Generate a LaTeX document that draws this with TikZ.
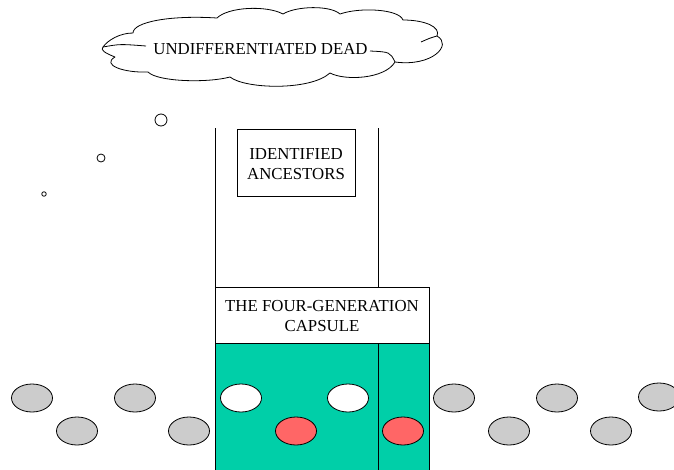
\documentclass[tikz,border=0pt]{standalone}
\usepackage{fontspec}
\setmainfont{Liberation Serif}
\usetikzlibrary{shapes.geometric}
\definecolor{capgreen}{RGB}{0,207,168}
\definecolor{redegg}{RGB}{255,102,102}
\definecolor{grayegg}{RGB}{204,204,204}
\tikzset{
  lbl/.style={font=\fontsize{16.8}{20}\selectfont, align=center, inner sep=0pt},
  boxnode/.style={draw, line width=0.8pt, fill=white, inner sep=0pt},
  egg/.style={draw, ellipse, line width=0.8pt, minimum width=41pt, minimum height=28pt, inner sep=0pt},
  whiteegg/.style={egg, fill=white},
  redeggs/.style={egg, fill=redegg},
  grayeggs/.style={egg, fill=grayegg},
  bubble/.style={draw, circle, line width=0.8pt, inner sep=0pt, fill=white},
  wall/.style={line width=0.8pt},
  cloudline/.style={line width=0.8pt, line join=round}
}
\begin{document}
\begin{tikzpicture}[x=1pt,y=-1pt]
\useasboundingbox (0,0) rectangle (674,469);
\clip (0,0) rectangle (674,469);
% cloud outline
\coordinate (c0) at (103,47);
\coordinate (c1) at (133,33);
\coordinate (c2) at (217,18);
\coordinate (c3) at (283,14);
\coordinate (c4) at (340,14);
\coordinate (c5) at (403,20);
\coordinate (c6) at (437,36);
\coordinate (c7) at (395,62);
\coordinate (c8) at (330,73);
\coordinate (c9) at (230,77);
\coordinate (c10) at (148,72);
\coordinate (c11) at (115,57);
\draw[cloudline, fill=white] (c0)
  .. controls (108,40) and (120,33) .. (c1)
  .. controls (133,22) and (170,15) .. (c2)
  .. controls (228,7) and (266,5) .. (c3)
  .. controls (296,6) and (330,5) .. (c4)
  .. controls (360,7) and (399,9) .. (c5)
  .. controls (425,20) and (441,27) .. (c6)
  .. controls (453,45) and (432,67) .. (c7)
  .. controls (385,79) and (345,81) .. (c8)
  .. controls (310,91) and (245,89) .. (c9)
  .. controls (208,83) and (158,82) .. (c10)
  .. controls (124,73) and (101,65) .. (c11)
  .. controls (105,53) and (100,50) .. (c0) -- cycle;
\coordinate (ci1) at (146,46);
\coordinate (ci2) at (370,51);
\coordinate (ci3) at (421,42);
\draw[cloudline] (c0) .. controls (120,44) .. (ci1);
\draw[cloudline] (c7) .. controls (390,52) .. (ci2);
\draw[cloudline] (c6) .. controls (430,38) .. (ci3);
\node[lbl] (deadlabel) at (260.5,49) {UNDIFFERENTIATED DEAD};
% thought bubbles
\node[bubble, minimum size=12pt] (b1) at (161,120) {};
\node[bubble, minimum size=8pt] (b2) at (101,158) {};
\node[bubble, minimum size=4.5pt] (b3) at (44,194) {};
% green capsule body
\node[draw, line width=0.8pt, fill=capgreen, anchor=north west, minimum width=214pt, minimum height=140pt, inner sep=0pt] (tank) at (215,343) {};
% capsule header
\node[boxnode, minimum width=214pt, minimum height=56pt] (capsule) at (322,315) {};
\node[lbl] (capsulelabel) at (322,316.5) {THE FOUR-GENERATION\\CAPSULE};
% ancestors box
\node[boxnode, minimum width=118pt, minimum height=67pt] (ancestors) at (296,162.5) {};
\node[lbl] (ancestorslabel) at (296,164) {IDENTIFIED\\ANCESTORS};
% walls
\coordinate (ltop) at (215,128);
\coordinate (rtop) at (378.5,128);
\draw[wall] (ltop) -- (ltop |- capsule.north);
\draw[wall] (rtop) -- (rtop |- capsule.north);
\draw[wall] (rtop |- capsule.south) -- (rtop |- tank.south);
% eggs in capsule
\node[whiteegg] (w1) at (241,398) {};
\node[whiteegg] (w2) at (348,398) {};
\node[redeggs] (r1) at (296,431) {};
\node[redeggs] (r2) at (403,431) {};
% gray eggs
\node[grayeggs] (g1) at (32,398) {};
\node[grayeggs] (g2) at (135,398) {};
\node[grayeggs] (g3) at (77,431) {};
\node[grayeggs] (g4) at (189,431) {};
\node[grayeggs] (g5) at (454,398) {};
\node[grayeggs] (g6) at (557,398) {};
\node[grayeggs] (g7) at (659,397) {};
\node[grayeggs] (g8) at (509,431) {};
\node[grayeggs] (g9) at (611,431) {};
\end{tikzpicture}
\end{document}
